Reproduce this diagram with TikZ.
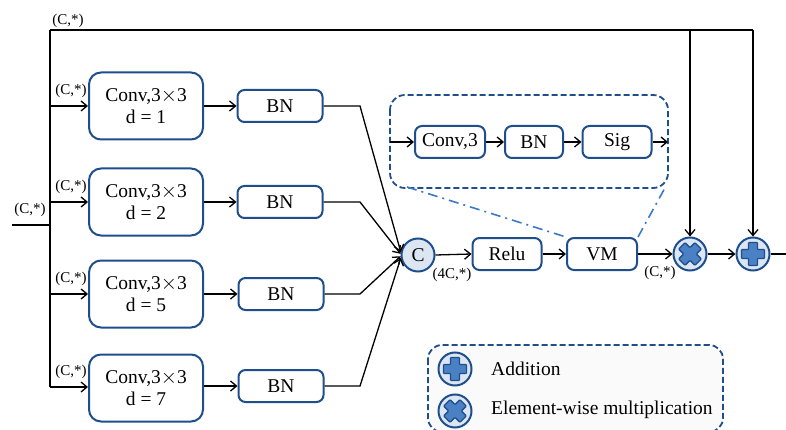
\documentclass[tikz,border=0pt]{standalone}
\usepackage{fontspec}
\setmainfont{Liberation Serif}
\usetikzlibrary{arrows.meta,calc}
\definecolor{bdark}{HTML}{1F4E8C}
\definecolor{blight}{HTML}{DCE6F2}
\definecolor{bicon}{HTML}{4A80C4}
\definecolor{bdash}{HTML}{3B78C8}
\begin{document}
\begin{tikzpicture}[x=1pt,y=-1pt,
  arr/.style={-{Straight Barb[length=6pt,width=10pt,line width=1.3pt]},line width=1.3pt},
  ln/.style={line width=1.3pt},
  blk/.style={draw=bdark,line width=2pt,rounded corners=7pt,fill=white,inner sep=0pt,align=center,font=\fontsize{19.5}{22}\selectfont},
  conv/.style={blk,minimum width=114pt,minimum height=67pt,rounded corners=12pt},
  bn/.style={blk,minimum width=85pt,minimum height=32pt},
  sm/.style={blk,minimum width=69pt,minimum height=32pt},
  circ/.style={circle,draw=bdark,line width=2pt,fill=blight,minimum size=33pt,inner sep=0pt,font=\fontsize{19.5}{22}\selectfont},
  lab/.style={font=\fontsize{15}{16}\selectfont,inner sep=0pt},
  txt/.style={font=\fontsize{19.5}{22}\selectfont,inner sep=0pt,anchor=west},
  plusicon/.pic={\draw[fill=bicon,draw=bdark,line width=1.3pt,rounded corners=0.8pt]
    (-4.5,-11.5)--(4.5,-11.5)--(4.5,-4.5)--(11.5,-4.5)--(11.5,4.5)--(4.5,4.5)--(4.5,11.5)--(-4.5,11.5)--(-4.5,4.5)--(-11.5,4.5)--(-11.5,-4.5)--(-4.5,-4.5)--cycle;}
]
\useasboundingbox (0,0) rectangle (786,430);

% legend box
\draw[draw=bdark,line width=1.8pt,dashed,dash pattern=on 6pt off 3pt,fill=black!2,rounded corners=14pt] (428,345) rectangle (723,432);
\node[circ] (la) at (455,369) {};
\pic at (la) {plusicon};
\node[txt] (lat) at (491,369) {Addition};
\node[circ] (lm) at (455,411) {};
\pic[rotate=45] at (lm) {plusicon};
\node[txt] (lmt) at (491,410) {Element-wise multiplication};

% input and trunk
\coordinate (in) at (12,225);
\coordinate (tj) at (50,225);
\coordinate (ttop) at (50,30);
\coordinate (tbot) at (50,387);
\draw[ln] (in) -- (tj);
\draw[ln] (ttop) -- (tbot);
\node[lab] at (30,210) {(C,*)};
\node[lab] at (68,21) {(C,*)};

% conv boxes
\node[conv] (c1) at (146,106) {Conv,3$\times$3\\d = 1};
\node[conv] (c2) at (146,202) {Conv,3$\times$3\\d = 2};
\node[conv] (c3) at (146,294) {Conv,3$\times$3\\d = 5};
\node[conv] (c4) at (146,388) {Conv,3$\times$3\\d = 7};
\foreach \i/\y in {1/106,2/202,3/294,4/387}{
  \coordinate (b\i) at (50,\y);
  \draw[arr] (b\i) -- (b\i -| c\i.west);
  \node[lab] at (71,\y-15) {(C,*)};
}

% BN boxes
\node[bn] (n1) at (280,106) {BN};
\node[bn] (n2) at (280,202) {BN};
\node[bn] (n3) at (281,294) {BN};
\node[bn] (n4) at (281,386) {BN};
\foreach \i in {1,2,3,4}{\draw[arr] (c\i.east |- n\i) -- (n\i.west);}

% concat circle
\node[circ] (C) at (418,255) {C};
\node[lab] at (452,275) {(4C,*)};
\draw[arr] (n1.east) -- (360,106) -- (C.170);
\draw[arr] (n2.east) -- (360,202) -- (C.176);
\draw[arr] (n3.east) -- (360,294) -- (C.184);
\draw[arr] (n4.east) -- (360,386) -- (C.190);

% relu, vm
\node[sm] (relu) at (507,254) {Relu};
\node[sm,minimum width=70pt] (vm) at (602,254) {VM};
\draw[arr] (C.east) -- (relu.west);
\draw[arr] (relu.east) -- (vm.west);
\node[lab] at (660,273) {(C,*)};

% dashed inner module
\draw[draw=bdark,line width=1.8pt,dashed,dash pattern=on 6pt off 3pt,rounded corners=15pt] (390,95) rectangle (668,188);
\coordinate (dl) at (390,142);
\coordinate (dr) at (668,142);
\node[sm,minimum width=70pt] (cv) at (450,142) {Conv,3};
\node[sm,minimum width=58pt] (bn5) at (534,142) {BN};
\node[sm,minimum width=69pt] (sig) at (617,142) {Sig};
\draw[arr] (dl) -- (cv.west);
\draw[arr] (cv.east) -- (bn5.west);
\draw[arr] (bn5.east) -- (sig.west);
\draw[arr] (sig.east) -- (dr);
\coordinate (dbl) at (407,187);
\coordinate (dbr) at (666,186);
\draw[bdash,line width=1.6pt,dash pattern=on 10pt off 5pt on 2pt off 5pt] (dbl) -- (vm.north west);
\draw[bdash,line width=1.6pt,dash pattern=on 10pt off 5pt on 2pt off 5pt] (vm.north east) -- (dbr);

% multiply and add
\node[circ] (mul) at (690,254) {};
\pic[rotate=45] at (mul) {plusicon};
\node[circ] (add) at (753,254) {};
\pic at (add) {plusicon};
\draw[arr] (vm.east) -- (mul.west);
\draw[arr] (mul.east) -- (add.west);
\coordinate (out) at (786,254);
\draw[ln] (add.east) -- (out);

% skip connections
\coordinate (tm) at (690,30);
\coordinate (ta) at (753,30);
\draw[ln] (ttop) -- (ta);
\draw[arr] (tm) -- (mul.north);
\draw[arr] (ta) -- (add.north);
\end{tikzpicture}
\end{document}
